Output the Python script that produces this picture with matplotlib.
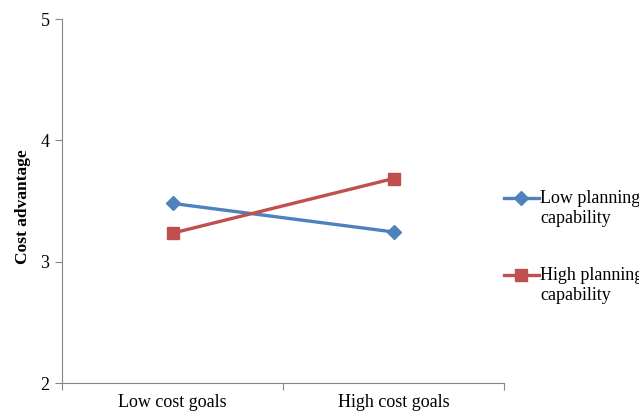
import matplotlib.pyplot as plt
from matplotlib.lines import Line2D

categories = ["Low cost goals", "High cost goals"]
series_names = ["Low planning\ncapability", "High planning\ncapability"]
low_planning = [3.48, 3.245]
high_planning = [3.235, 3.685]
y_ticks = [2, 3, 4, 5]

plt.rcParams['font.family'] = ['Liberation Serif', 'DejaVu Serif']

W, H = 639, 411
fig = plt.figure(figsize=(W / 100, H / 100), dpi=100)
ax = fig.add_axes([62 / W, 1 - 383 / H, (504 - 62) / W, (383 - 19) / H])

x = list(range(len(categories)))
styles = [dict(color='#4F81BD', marker='D', ms=7),
          dict(color='#C0504D', marker='s', ms=8)]
for vals, st in zip([low_planning, high_planning], styles):
    ax.plot(x, vals, lw=2.4, **st)

ax.set_xlim(-0.5, 1.5)
ax.set_ylim(2, 5)
ax.set_yticks(y_ticks)
ax.set_xticks([-0.5, 0.5, 1.5])
ax.set_xticklabels([])
ax.set_xticks(x, minor=True)
ax.set_xticklabels(categories, minor=True, fontsize=13)
ax.tick_params(axis='x', which='minor', length=0, pad=8)
ax.tick_params(axis='x', which='major', length=5, color='#868686')
ax.tick_params(axis='y', length=5, color='#868686', labelsize=13, pad=4)

for side in ['top', 'right']:
    ax.spines[side].set_visible(False)
for side in ['left', 'bottom']:
    ax.spines[side].set_color('#868686')

ax.set_ylabel("Cost advantage", fontsize=12.5, fontweight='bold', labelpad=8)
ax.yaxis.set_label_coords(-0.07, 0.485)

# legend drawn by hand: marker line aligned with the first text line
legend_y = [198, 275]
for name, st, ly in zip(series_names, styles, legend_y):
    yf = 1 - ly / H
    fig.add_artist(Line2D([504 / W, 539 / W], [yf, yf], lw=2.4,
                          color=st['color'], transform=fig.transFigure))
    fig.add_artist(Line2D([521 / W], [yf], lw=0, transform=fig.transFigure, **st))
    first, second = name.split("\n")
    fig.text(540 / W, yf, first, fontsize=13, va='center', ha='left')
    fig.text(540 / W, yf - 20 / H, second, fontsize=13, va='center', ha='left')

fig.savefig("out.png", dpi=100)
